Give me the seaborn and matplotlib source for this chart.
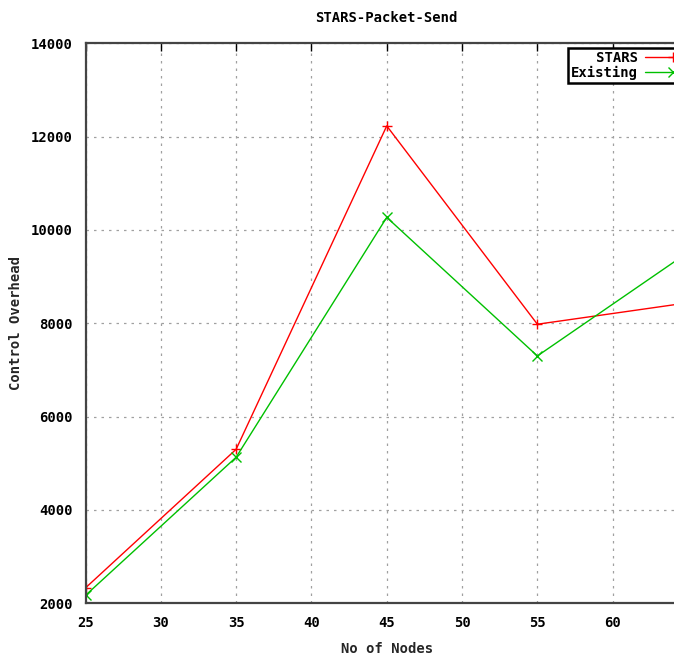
import matplotlib
matplotlib.use("Agg")
import matplotlib.pyplot as plt
import seaborn as sns
import pandas as pd

# Control overhead measured per network size
nodes = [25, 35, 45, 55, 65]
stars = [2330, 5300, 12230, 7980, 8440]
existing = [2170, 5130, 10270, 7300, 9520]
series_names = ["STARS", "Existing"]
x_ticks = [25, 30, 35, 40, 45, 50, 55, 60]
y_ticks = [2000, 4000, 6000, 8000, 10000, 12000, 14000]

df = pd.DataFrame({
    "nodes": nodes * 2,
    "overhead": stars + existing,
    "series": [series_names[0]] * len(nodes) + [series_names[1]] * len(nodes),
})

sns.set_style("white")
plt.rcParams["font.family"] = ["DejaVu Sans Mono"]
plt.rcParams["font.weight"] = "bold"
plt.rcParams["text.color"] = "#000000"

FS = 10

fig = plt.figure(figsize=(6.74, 6.61), dpi=100)
ax = fig.add_axes([85.5 / 674, 1 - 603.3 / 661, 602.5 / 674, 560 / 661])

palette = {"STARS": "#ff0000", "Existing": "#00c000"}
markers = {"STARS": "+", "Existing": "x"}
for name in series_names:
    sub = df[df["series"] == name]
    sns.lineplot(data=sub, x="nodes", y="overhead", ax=ax, color=palette[name],
                 marker=markers[name], markersize=6.5, markeredgewidth=1.0,
                 markeredgecolor=palette[name], linewidth=1.0,
                 label=("   " + name) if name == "STARS" else name)

ax.set_xlim(25, 65)
ax.set_ylim(2000, 14000)
ax.set_xticks(x_ticks)
ax.set_yticks(y_ticks)
ax.tick_params(direction="in", length=6, width=1.0, color="#000000",
               labelcolor="#000000", top=True, right=True, labelsize=FS, pad=9)
for lab in ax.get_xticklabels() + ax.get_yticklabels():
    lab.set_fontweight("bold")

ax.grid(True, color="#a0a0a0", linestyle=(0, (2, 4)), linewidth=0.9)
for side in ax.spines.values():
    side.set_color("#444444")
    side.set_linewidth(1.6)

ax.set_title("STARS-Packet-Send", fontsize=FS, fontweight="bold", pad=15)
ax.set_xlabel("No of Nodes", fontsize=FS, fontweight="bold", labelpad=9)
ax.set_ylabel("Control Overhead", fontsize=FS, fontweight="bold", labelpad=6)

leg = ax.legend(loc="upper left", bbox_to_anchor=(0.801, 0.992), markerfirst=False,
                fancybox=False, framealpha=1, edgecolor="#000000", fontsize=FS,
                handlelength=4.0, borderpad=0.2, labelspacing=0.1,
                handletextpad=0.5, borderaxespad=0)
leg.get_frame().set_linewidth(1.8)
for t in leg.get_texts():
    t.set_fontweight("bold")

fig.savefig("out.png", dpi=100)
